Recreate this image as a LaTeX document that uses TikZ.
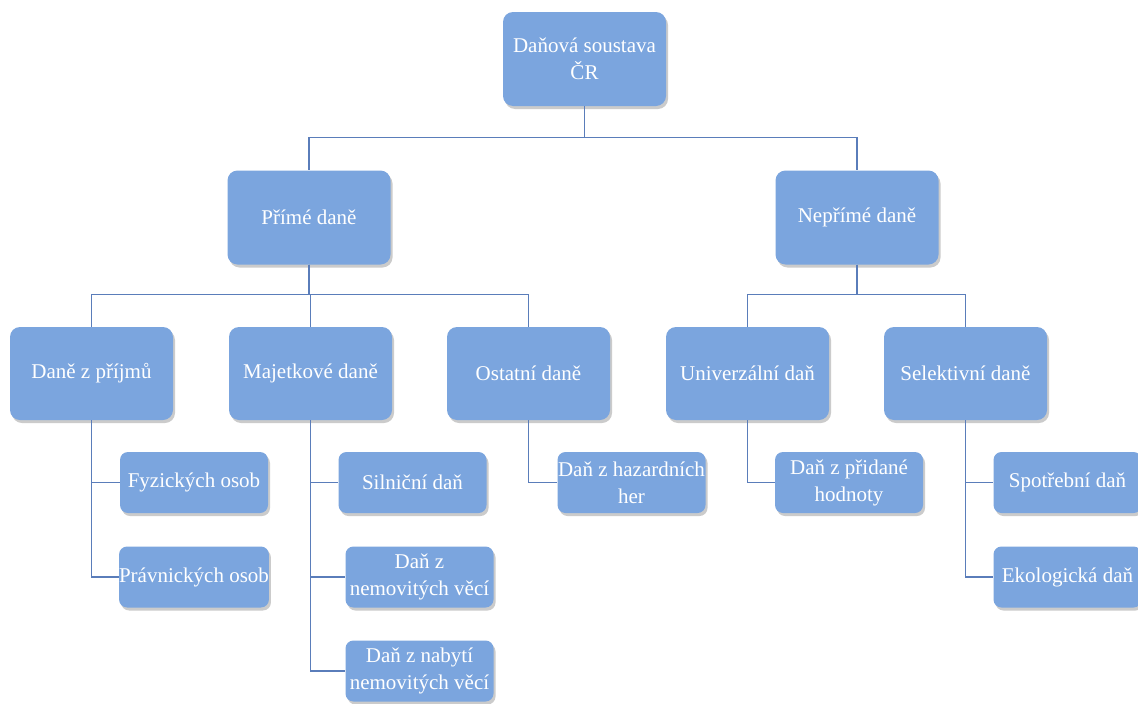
\documentclass[tikz,border=0pt]{standalone}
\usepackage{fontspec}
\setmainfont{Liberation Serif}
\usetikzlibrary{shadows}
\definecolor{boxfill}{HTML}{7BA5DE}
\definecolor{linec}{HTML}{5A7DBA}
\begin{document}
\begin{tikzpicture}[x=1pt,y=-1pt,
  box/.style={draw=none, fill=boxfill, rounded corners=10pt, text=white, align=center,
    inner sep=0pt, font=\fontsize{21}{27}\selectfont,
    drop shadow={shadow xshift=2pt, shadow yshift=-3pt, fill=black!45, opacity=.45}},
  bigbox/.style={box, minimum width=163pt, minimum height=94pt},
  leaf/.style={box, rounded corners=8pt, minimum width=148pt, minimum height=61pt},
  conn/.style={draw=linec, line width=1.2pt}]
\fill[white] (0,0) rectangle (1138,704);
\useasboundingbox (0,0) rectangle (1138,704);

\node[bigbox] (root) at (584.5,59) {Daňová soustava\\ČR};
\node[bigbox] (prime) at (309,217.5) {Přímé daně};
\node[bigbox] (neprime) at (857,217.5) {Nepřímé daně};

\node[bigbox, minimum height=93pt] (prijmy) at (91.5,373.5) {Daně z příjmů};
\node[bigbox, minimum height=93pt] (majet) at (310.5,373.5) {Majetkové daně};
\node[bigbox, minimum height=93pt] (ostat) at (528.5,373.5) {Ostatní daně};
\node[bigbox, minimum height=93pt] (univ) at (747.5,373.5) {Univerzální daň};
\node[bigbox, minimum height=93pt] (selek) at (965.5,373.5) {Selektivní daně};

\node[leaf] (fyz) at (194,482.5) {Fyzických osob};
\node[leaf] (prav) at (194,577) {Právnických osob};
\node[leaf] (siln) at (412.5,482.5) {Silniční daň};
\node[leaf] (nemov) at (419.5,577) {Daň z\\nemovitých věcí};
\node[leaf] (nabyti) at (419.5,671) {Daň z nabytí\\nemovitých věcí};
\node[leaf] (hazard) at (631.5,482.5) {Daň z hazardních\\her};
\node[leaf] (dph) at (849,482.5) {Daň z přidané\\hodnoty};
\node[leaf] (spotr) at (1067.5,482.5) {Spotřební daň};
\node[leaf] (ekol) at (1067.5,577) {Ekologická daň};

\draw[conn] (root.south) -- ++(0,31) -| (prime.north);
\draw[conn] (root.south) -- ++(0,31) -| (neprime.north);
\draw[conn] (prime.south) -- ++(0,30) -| (prijmy.north);
\draw[conn] (prime.south) -- ++(0,30) -| (majet.north);
\draw[conn] (prime.south) -- ++(0,30) -| (ostat.north);
\draw[conn] (neprime.south) -- ++(0,30) -| (univ.north);
\draw[conn] (neprime.south) -- ++(0,30) -| (selek.north);
\draw[conn] (prijmy.south) |- (fyz.west);
\draw[conn] (prijmy.south) |- (prav.west);
\draw[conn] (majet.south) |- (siln.west);
\draw[conn] (majet.south) |- (nemov.west);
\draw[conn] (majet.south) |- (nabyti.west);
\draw[conn] (ostat.south) |- (hazard.west);
\draw[conn] (univ.south) |- (dph.west);
\draw[conn] (selek.south) |- (spotr.west);
\draw[conn] (selek.south) |- (ekol.west);
\end{tikzpicture}
\end{document}
